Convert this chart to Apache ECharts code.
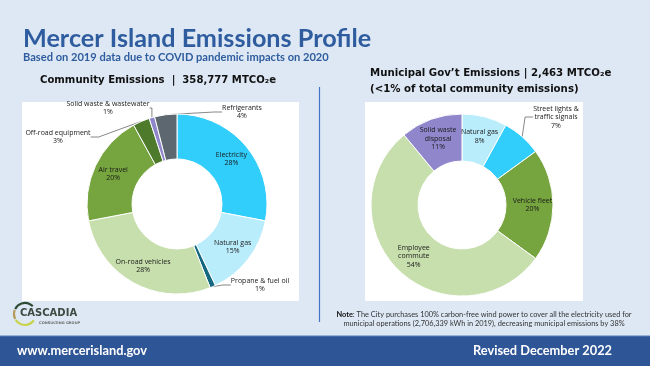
<!DOCTYPE html>
<html>
<head>
<meta charset="utf-8">
<script src="https://cdn.jsdelivr.net/npm/echarts@6/dist/echarts.min.js"></script>
<style>
html,body{margin:0;padding:0;background:#dde8f4;}
#c{width:650px;height:366px;}
</style>
</head>
<body>
<div id="c"></div>
<script>
// ---- Data ----
const communityCategories = ['Electricity','Natural gas','Propane & fuel oil','On-road vehicles','Air travel','Off-road equipment','Solid waste & wastewater','Refrigerants'];
const communityValues = [28, 15, 1, 28, 20, 3, 1, 4];
const communityLabels = ['Electricity','Natural gas','Propane & fuel oil','On-road vehicles','Air travel','Off-road equipment','Solid waste & wastewater','Refrigerants'];

const municipalCategories = ['Natural gas','Street lights & traffic signals','Vehicle fleet','Employee commute','Solid waste disposal'];
const municipalValues = [8, 7, 20, 54, 11];
const municipalLabels = ['Natural gas','Street lights &\ntraffic signals','Vehicle fleet','Employee\ncommute','Solid waste\ndisposal'];

const communityTotal = '358,777';
const municipalTotal = '2,463';

// ---- Styles ----
const communityColors = ['#31cdfb','#b9edfc','#14687f','#c6dfac','#76a43e','#4e7a2c','#8f86cb','#5c6770'];
const municipalColors = ['#b9edfc','#31cdfb','#76a43e','#c6dfac','#8f86cb'];
const communityOutside = {
  'Refrigerants': [242, 112],
  'Solid waste & wastewater': [108, 108],
  'Off-road equipment': [58, 137],
  'Propane & fuel oil': [260, 285]
};
const municipalOutside = {
  'Street lights & traffic signals': [556, 117]
};

const labelFont = 'Open Sans';
const titleFont = 'Lato';

function buildData(cats, vals, labels, colors, outside) {
  return cats.map((c, i) => {
    const isOut = !!outside[c];
    return {
      name: c,
      value: vals[i],
      labelText: labels[i],
      itemStyle: { color: colors[i] },
      label: { position: isOut ? 'outside' : 'inside' },
      labelLine: { show: isOut }
    };
  });
}

function pieSeries(cats, vals, labels, colors, outside, center, radius) {
  return {
    type: 'pie',
    center: center,
    radius: radius,
    startAngle: 90,
    clockwise: true,
    avoidLabelOverlap: false,
    silent: true,
    animation: false,
    itemStyle: { borderColor: '#ffffff', borderWidth: 1 },
    label: {
      show: true,
      color: '#1a1a1a',
      fontFamily: labelFont,
      fontSize: 7,
      lineHeight: 8.5,
      align: 'center',
      formatter: p => p.data.labelText + '\n' + p.value + '%'
    },
    labelLine: {
      show: true,
      length: 8,
      length2: 8,
      smooth: false,
      lineStyle: { color: '#555', width: 0.7 }
    },
    labelLayout: function (params) {
      const name = cats[params.dataIndex];
      const p = outside[name];
      if (!p) return {};
      return { x: p[0], y: p[1], align: 'center', verticalAlign: 'middle' };
    },
    data: buildData(cats, vals, labels, colors, outside)
  };
}

function txt(x, y, text, font, fill, align, extra) {
  return { type: 'text', x: x, y: y, z: 5,
    style: Object.assign({ text: text, font: font, fill: fill, align: align || 'left', verticalAlign: 'middle' }, extra || {}) };
}

const chart = echarts.init(document.getElementById('c'), null, { renderer: 'canvas' });

chart.setOption({
  backgroundColor: '#dde8f4',
  animation: false,
  graphic: [
    // panels
    { type: 'rect', shape: { x: 22, y: 102, width: 277, height: 199 }, style: { fill: '#ffffff' }, z: 0 },
    { type: 'rect', shape: { x: 365, y: 102, width: 218, height: 199 }, style: { fill: '#ffffff' }, z: 0 },
    // divider
    { type: 'line', shape: { x1: 319.5, y1: 87, x2: 319.5, y2: 322 }, style: { stroke: '#4472c4', lineWidth: 1.2 }, z: 0 },
    // footer band
    { type: 'rect', shape: { x: 0, y: 336, width: 650, height: 30 }, style: { fill: '#2e5595' }, z: 0 },
    { type: 'line', shape: { x1: 0, y1: 336, x2: 650, y2: 336 }, style: { stroke: '#5b7fbf', lineWidth: 1 }, z: 0 },
    // titles
    txt(23, 38.5, 'Mercer Island Emissions Profile', 'bold 25.2px ' + titleFont, '#2e5c9e'),
    txt(23, 57, 'Based on 2019 data due to COVID pandemic impacts on 2020', 'bold 11.1px ' + titleFont, '#2e5c9e'),
    txt(40, 80.5, 'Community Emissions  |  ' + communityTotal + ' MTCO\u2082e', 'bold 10.1px DejaVu Sans', '#111'),
    txt(370, 73.5, 'Municipal Gov\u2019t Emissions | ' + municipalTotal + ' MTCO\u2082e', 'bold 10.2px DejaVu Sans', '#111'),
    txt(370, 89.5, '(<1% of total community emissions)', 'bold 10.2px DejaVu Sans', '#111'),
    // note
    txt(484, 319, '{b|Note}: The City purchases 100% carbon-free wind power to cover all the electricity used for\nmunicipal operations (2,706,339 kWh in 2019), decreasing municipal emissions by 38%',
      '7.4px ' + titleFont, '#333', 'center',
      { lineHeight: 9, rich: { b: { fontWeight: 'bold', fontSize: 7.4, fontFamily: titleFont, fill: '#111' } } }),
    // footer texts
    txt(17, 350.5, 'www.mercerisland.gov', 'bold 12.8px ' + titleFont, '#ffffff'),
    txt(612, 350.5, 'Revised December 2022', 'bold 12.8px ' + titleFont, '#ffffff', 'right'),
    // logo
    { type: 'arc', shape: { cx: 25, cy: 314, r: 11, startAngle: Math.PI * 1.15, endAngle: Math.PI * 1.75 }, style: { stroke: '#2f4a35', lineWidth: 2.2, fill: null }, z: 5 },
    { type: 'arc', shape: { cx: 25, cy: 314, r: 11, startAngle: Math.PI * 0.85, endAngle: Math.PI * 1.12 }, style: { stroke: '#b59a5a', lineWidth: 2.2, fill: null }, z: 5 },
    { type: 'arc', shape: { cx: 25, cy: 314, r: 11, startAngle: Math.PI * 0.2, endAngle: Math.PI * 0.82 }, style: { stroke: '#c9d34a', lineWidth: 2.2, fill: null }, z: 5 },
    txt(20, 313.5, 'CASCADIA', 'bold 10px DejaVu Sans', '#3c4a42'),
    txt(39, 323.5, 'CONSULTING GROUP', 'bold 3.6px DejaVu Sans', '#6b6b6b')
  ],
  series: [
    pieSeries(communityCategories, communityValues, communityLabels, communityColors, communityOutside, [177, 204], [45, 90]),
    pieSeries(municipalCategories, municipalValues, municipalLabels, municipalColors, municipalOutside, [462, 205], [44, 91])
  ]
});
</script>
</body>
</html>
